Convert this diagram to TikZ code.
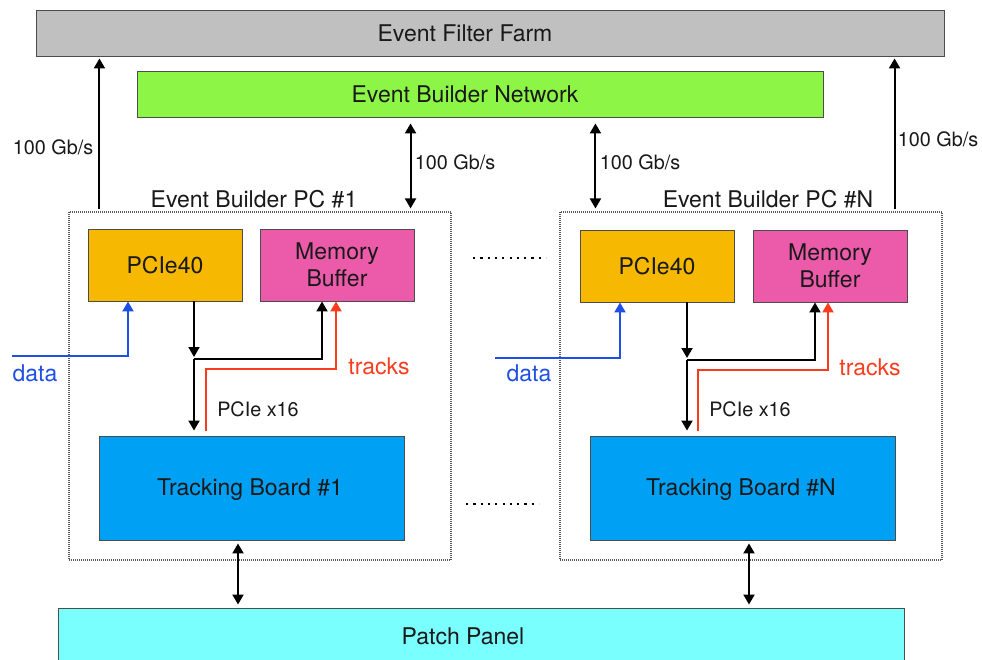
\documentclass[tikz,border=0pt]{standalone}
\usepackage{fontspec}
\setmainfont{TeX Gyre Heros}
\usetikzlibrary{arrows.meta,calc}
\definecolor{farmgray}{RGB}{192,192,192}
\definecolor{ebngreen}{RGB}{140,245,70}
\definecolor{pcieorange}{RGB}{246,184,0}
\definecolor{mempink}{RGB}{236,90,170}
\definecolor{tbblue}{RGB}{0,160,245}
\definecolor{patchcyan}{RGB}{122,255,255}
\definecolor{datablue}{RGB}{30,80,230}
\definecolor{trackred}{RGB}{250,60,30}
\definecolor{textdark}{RGB}{25,25,25}
\newcommand{\bigf}{\fontsize{23}{27.5}\selectfont}
\newcommand{\smallf}{\fontsize{19.8}{23}\selectfont}
\tikzset{
  box/.style={draw=black!70, line width=0.9pt, inner sep=0pt, align=center, font=\bigf, text=textdark},
  pcbox/.style={draw=black!65, dash pattern=on 1pt off 1pt, line width=1.1pt, inner sep=0pt, minimum width=382pt, minimum height=348pt},
  arr/.style={-{Triangle[width=11pt,length=10pt]}, line width=2pt},
  darr/.style={{Triangle[width=11pt,length=10pt]}-{Triangle[width=11pt,length=10pt]}, line width=2pt},
  bluearr/.style={-{Triangle[width=11pt,length=10pt]}, line width=2pt, draw=datablue},
  redarr/.style={-{Triangle[width=11pt,length=10pt]}, line width=2pt, draw=trackred},
  lbl/.style={font=\bigf, text=textdark, inner sep=0pt},
  slbl/.style={font=\smallf, text=textdark, inner sep=0pt},
  dotrow/.style={line width=2.2pt, dash pattern=on 2.2pt off 5.1pt}
}
\begin{document}
\begin{tikzpicture}[x=1pt,y=-1pt]
\useasboundingbox (0,0) rectangle (982,660);
\clip (0,0) rectangle (982,660);
\fill[white] (0,0) rectangle (982,660);

% big boxes
\node[box, fill=farmgray, minimum width=908pt, minimum height=46pt] (farm) at (490,33) {};
\node[lbl] (farmlbl) at (465,33) {Event Filter Farm};
\node[box, fill=ebngreen, minimum width=686pt, minimum height=46pt] (ebn) at (480,94) {};
\node[lbl] (ebnlbl) at (465,94) {Event Builder Network};
\node[box, fill=patchcyan, minimum width=846pt, minimum height=60pt] (patch) at (481,638) {};
\node[lbl] (patchlbl) at (463,636) {Patch Panel};

% PC containers
\node[pcbox] (pc1) at (260,386) {};
\node[pcbox] (pcN) at (751,386) {};
\node[lbl] (pc1lbl) at (254,199) {Event Builder PC \#1};
\node[lbl] (pcNlbl) at (768,199) {Event Builder PC \#N};

% inner boxes
\node[box, fill=pcieorange, minimum width=154pt, minimum height=72pt] (pcie1) at (165,265) {PCIe40};
\node[box, fill=mempink, minimum width=154pt, minimum height=72pt] (mem1) at (337,265) {Memory\\Buffer};
\node[box, fill=pcieorange, minimum width=154pt, minimum height=72pt] (pcieN) at (657,266) {PCIe40};
\node[box, fill=mempink, minimum width=154pt, minimum height=72pt] (memN) at (830,266) {Memory\\Buffer};
\node[box, fill=tbblue, minimum width=305pt, minimum height=104pt] (tb1) at (251.5,488) {};
\node[lbl] (tb1lbl) at (250,490) {Tracking Board \#1};
\node[box, fill=tbblue, minimum width=305pt, minimum height=104pt] (tbN) at (742.5,488) {};
\node[lbl] (tbNlbl) at (741,490) {Tracking Board \#N};

% dots
\draw[dotrow] (473,258) -- (546,258);
\draw[dotrow] (466,504) -- (539,504);

% up arrows to farm
\coordinate (up1) at ($(pc1.north west)+(31,-2)$);
\coordinate (upN) at ($(pcN.north east)+(-48,-2)$);
\draw[arr, shorten >=2pt] (up1) -- (up1 |- farm.south);
\draw[arr, shorten >=2pt] (upN) -- (upN |- farm.south);
\node[slbl] (r100a) at (53,147) {100 Gb/s};
\node[slbl] (r100b) at (938,139) {100 Gb/s};

% EBN <-> PCs
\coordinate (e1) at ($(pc1.north east)+(-41,0)$);
\coordinate (eN) at ($(pcN.north west)+(36,0)$);
\draw[darr, shorten <=6pt, shorten >=3pt] (e1 |- ebn.south) -- (e1);
\draw[darr, shorten <=6pt, shorten >=3pt] (eN |- ebn.south) -- (eN);
\node[slbl] (r100c) at (455,162) {100 Gb/s};
\node[slbl] (r100d) at (640,162) {100 Gb/s};

% Tracking <-> patch
\coordinate (p1) at ($(tb1.south)+(-13.5,0)$);
\coordinate (pN) at ($(tbN.south)+(6.5,0)$);
\draw[darr, shorten <=3pt, shorten >=3pt] (p1) -- (p1 |- patch.north);
\draw[darr, shorten <=3pt, shorten >=3pt] (pN) -- (pN |- patch.north);

% inner PC1
\coordinate (j1) at (194,359);
\coordinate (r1) at (206,369);
\coordinate (d1) at (12,356);
\draw[arr, shorten >=2pt] (pcie1.south -| j1) -- (j1);
\draw[arr, shorten >=5pt] (j1) -- (j1 |- tb1.north);
\draw[arr] (j1) -| ($(mem1.south)+(-15,0)$);
\draw[redarr] ($(r1 |- tb1.north)+(0,-5)$) -- (r1) -| ($(mem1.south)+(-1,0)$);
\draw[bluearr] (d1) -| ($(pcie1.south)+(-37,0)$);
\node[font=\bigf, text=datablue, inner sep=0pt] (data1) at (35,373) {data};
\node[font=\bigf, text=trackred, inner sep=0pt] (tracks1) at (379,366) {tracks};
\node[slbl] (pcie16a) at (258,409) {PCIe x16};

% inner PCN
\coordinate (jN) at (687,360);
\coordinate (rN) at (698,370);
\coordinate (dN) at (495,358);
\draw[arr, shorten >=2pt] (pcieN.south -| jN) -- (jN);
\draw[arr, shorten >=5pt] (jN) -- (jN |- tbN.north);
\draw[arr] (jN) -| ($(memN.south)+(-15,0)$);
\draw[redarr] ($(rN |- tbN.north)+(0,-5)$) -- (rN) -| ($(memN.south)+(-2,0)$);
\draw[bluearr] (dN) -| ($(pcieN.south)+(-37,0)$);
\node[font=\bigf, text=datablue, inner sep=0pt] (dataN) at (529,373) {data};
\node[font=\bigf, text=trackred, inner sep=0pt] (tracksN) at (870,367) {tracks};
\node[slbl] (pcie16N) at (750,409) {PCIe x16};
\end{tikzpicture}
\end{document}
